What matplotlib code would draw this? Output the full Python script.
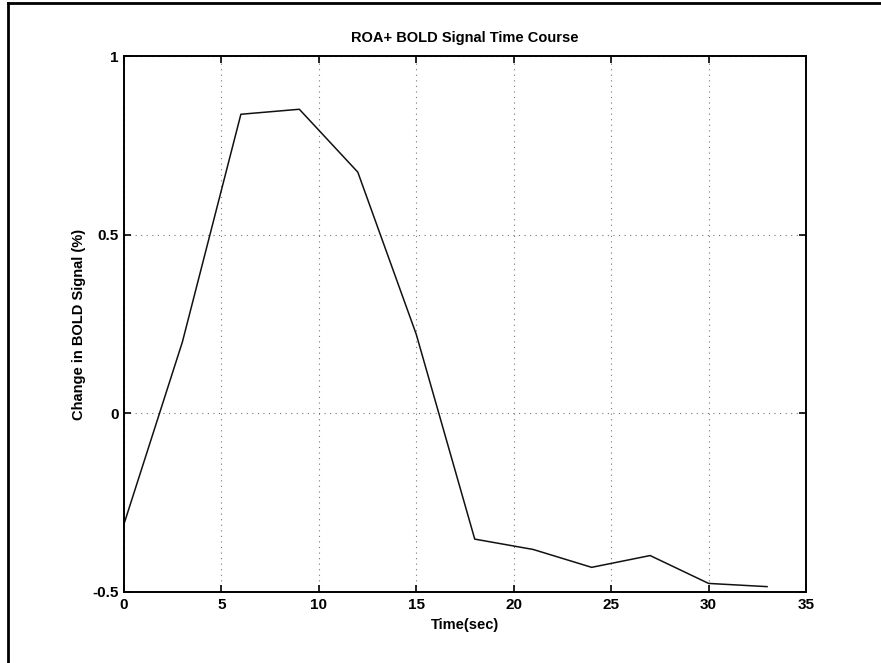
import numpy as np
import matplotlib.pyplot as plt
from matplotlib.lines import Line2D

# time points (sec) and BOLD change (%)
time_sec = [0, 3, 6, 9, 12, 15, 18, 21, 24, 27, 30, 33]
bold_change = [-0.31, 0.20, 0.837, 0.851, 0.675, 0.221, -0.352, -0.381, -0.431, -0.398, -0.476, -0.485]

x_ticks = [0, 5, 10, 15, 20, 25, 30, 35]
y_ticks = [-0.5, 0, 0.5, 1]
y_tick_labels = ['-0.5', '0', '0.5', '1']

plt.rcParams['font.family'] = ['Liberation Sans', 'DejaVu Sans']
plt.rcParams['font.weight'] = 'bold'

fig = plt.figure(figsize=(8.81, 6.63), dpi=100)
ax = fig.add_axes([0.1407, 0.1071, 0.9149 - 0.1407, 0.9155 - 0.1071])

ax.plot(time_sec, bold_change, color='#111111', linewidth=1.1)

ax.set_xlim(0, 35)
ax.set_ylim(-0.5, 1)
ax.set_xticks(x_ticks)
ax.set_yticks(y_ticks)
ax.set_yticklabels(y_tick_labels)
ax.tick_params(direction='in', top=True, right=True, length=5, width=1.2,
               labelsize=11, pad=4)
for lab in ax.get_xticklabels() + ax.get_yticklabels():
    lab.set_fontweight('bold')
for s in ax.spines.values():
    s.set_linewidth(1.4)

ax.grid(True, linestyle=(0, (1, 4)), color='#777777', linewidth=0.8)

ax.set_title('ROA+ BOLD Signal Time Course', fontsize=10.5, fontweight='bold', pad=10)
ax.set_xlabel('Time(sec)', fontsize=10.5, fontweight='bold', labelpad=5)
ax.set_ylabel('Change in BOLD Signal (%)', fontsize=10.5, fontweight='bold', labelpad=4)

# outer frame like the scanned page border
fig.add_artist(Line2D([8/881, 8/881], [0, 1 - 3/663], transform=fig.transFigure,
                      color='black', linewidth=2))
fig.add_artist(Line2D([8/881, 1], [1 - 3/663, 1 - 3/663], transform=fig.transFigure,
                      color='black', linewidth=2))

plt.savefig('out.png', dpi=100)
